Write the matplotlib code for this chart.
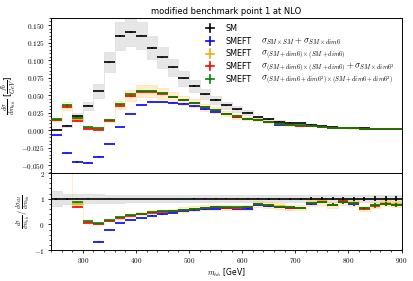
import numpy as np
import matplotlib
matplotlib.use('Agg')
import matplotlib.pyplot as plt
from matplotlib.ticker import FuncFormatter, AutoMinorLocator, MultipleLocator

plt.rcParams['mathtext.fontset'] = 'cm'
plt.rcParams['font.family'] = 'DejaVu Sans'

# m_hh bins, 20 GeV wide
edges = np.arange(240, 901, 20)
centers = 0.5 * (edges[:-1] + edges[1:])

# dsigma/dm_hh [fb/GeV]
sm = [0.0010, 0.0067, 0.0200, 0.0348, 0.0560, 0.0970, 0.1340, 0.1400, 0.1350, 0.1176,
      0.1040, 0.0895, 0.0740, 0.0630, 0.0510, 0.0430, 0.0355, 0.0300, 0.0250, 0.0186,
      0.0157, 0.0124, 0.0110, 0.0105, 0.0081, 0.0057, 0.0048, 0.0038, 0.0033, 0.0033,
      0.0024, 0.0024, 0.0019]
lin = [-0.0071, -0.0329, -0.0452, -0.0462, -0.0376, -0.0200, 0.0052, 0.0233, 0.0360, 0.0405,
       0.0405, 0.0395, 0.0380, 0.0345, 0.0300, 0.0260, 0.0225, 0.0186, 0.0155, 0.0141,
       0.0111, 0.0082, 0.0072, 0.0068, 0.0065, 0.0050, 0.0036, 0.0033, 0.0026, 0.0021,
       0.0018, 0.0019, 0.00146]
quad = [0.0153, 0.0345, 0.0160, 0.0034, 0.0020, 0.0143, 0.0360, 0.0495, 0.0555, 0.0555,
        0.0525, 0.0476, 0.0428, 0.0388, 0.0330, 0.0289, 0.0235, 0.0197, 0.0166, 0.0148,
        0.0119, 0.0088, 0.0073, 0.0068, 0.0067, 0.0051, 0.0037, 0.0034, 0.0028, 0.0021,
        0.0018, 0.0020, 0.0015]
quad_d8 = [0.0150, 0.0333, 0.0137, 0.0020, 0.0005, 0.0133, 0.0348, 0.0486, 0.0545, 0.0545,
           0.0520, 0.0472, 0.0425, 0.0385, 0.0327, 0.0287, 0.0234, 0.0196, 0.0165, 0.0147,
           0.0117, 0.0085, 0.0071, 0.0067, 0.0067, 0.0050, 0.0037, 0.0034, 0.0027, 0.0020,
           0.0017, 0.0019, 0.00146]
full = [0.0155, 0.0357, 0.0172, 0.0048, 0.0036, 0.0152, 0.0371, 0.0510, 0.0560, 0.0560,
        0.0530, 0.0480, 0.0430, 0.0390, 0.0330, 0.0290, 0.0236, 0.0198, 0.0167, 0.0147,
        0.0118, 0.0086, 0.0073, 0.0069, 0.0067, 0.0050, 0.0037, 0.0033, 0.0027, 0.0021,
        0.0018, 0.0019, 0.00146]

# relative uncertainties
sm_scale = [0.30, 0.20, 0.20, 0.17, 0.17, 0.15, 0.15, 0.14, 0.14, 0.14,
            0.14, 0.14, 0.14, 0.14, 0.14, 0.13, 0.13, 0.13, 0.13, 0.13,
            0.13, 0.13, 0.13, 0.13, 0.13, 0.13, 0.13, 0.13, 0.13, 0.13,
            0.13, 0.13, 0.13]
quad_scale = 0.15
stat = [0.03, 0.03, 0.02, 0.02, 0.01, 0.01, 0.01, 0.01, 0.01, 0.01,
        0.01, 0.01, 0.01, 0.02, 0.02, 0.02, 0.02, 0.02, 0.02, 0.02,
        0.03, 0.03, 0.03, 0.03, 0.05, 0.06, 0.06, 0.07, 0.08, 0.08,
        0.09, 0.09, 0.10]

series = [
    (lin, 'blue', r'$\sigma_{SM\times SM}+\sigma_{SM\times dim6}$'),
    (quad, 'orange', r'$\sigma_{(SM+dim6)\times(SM+dim6)}$'),
    (quad_d8, 'red', r'$\sigma_{(SM+dim6)\times(SM+dim6)}+\sigma_{SM\times dim6^2}$'),
    (full, 'green', r'$\sigma_{(SM+dim6+dim6^2)\times(SM+dim6+dim6^2)}$'),
]

sm = np.array(sm)
sm_scale = np.array(sm_scale)
stat = np.array(stat)


def band(ax, lo, hi, color, alpha):
    ax.fill_between(edges, np.append(lo, lo[-1]), np.append(hi, hi[-1]),
                    step='post', color=color, alpha=alpha, lw=0.6, zorder=1)


fig = plt.figure(figsize=(4.14, 2.81), dpi=100)
ax = fig.add_axes([0.123, 0.384, 0.847, 0.552])
rax = fig.add_axes([0.123, 0.110, 0.847, 0.274], sharex=ax)

# main panel
band(ax, sm * (1 - sm_scale), sm * (1 + sm_scale), 'lightgray', 0.55)
q = np.array(quad)
band(ax, q * (1 - quad_scale), q * (1 + quad_scale), 'orange', 0.2)
ax.errorbar(centers, sm, xerr=10, yerr=sm * stat, fmt='none', ecolor='black',
            elinewidth=1.2, zorder=3)
for vals, c, lab in series:
    v = np.array(vals)
    ax.errorbar(centers, v, xerr=10, yerr=np.abs(v) * stat, fmt='none', ecolor=c,
                elinewidth=1.2, zorder=3)

# ratio panel
band(rax, 1 - sm_scale, 1 + sm_scale, 'lightgray', 0.6)
band(rax, q / sm * (1 - quad_scale), q / sm * (1 + quad_scale), 'orange', 0.2)
rax.errorbar(centers, np.ones_like(sm), xerr=10, yerr=stat, fmt='none',
             ecolor='black', elinewidth=1.2, zorder=3)
for vals, c, lab in series:
    r = np.array(vals) / sm
    rax.errorbar(centers, r, xerr=10, yerr=np.abs(r) * stat, fmt='none', ecolor=c,
                 elinewidth=1.2, zorder=3)

# legend, laid out by hand so the rows are evenly spaced
leg_rows = [('black', 'SM', '')] + [(c, 'SMEFT', lab) for _, c, lab in series]
for i, (c, name, lab) in enumerate(leg_rows):
    y = 0.935 - i * 0.082
    ax.plot([0.443, 0.466], [y, y], color=c, lw=1.2, transform=ax.transAxes)
    ax.plot([0.4545, 0.4545], [y - 0.026, y + 0.026], color=c, lw=1.2,
            transform=ax.transAxes)
    ax.text(0.497, y - 0.019, name, fontsize=5.8, va='baseline',
            transform=ax.transAxes)
    if lab:
        ax.text(0.598, y - 0.019, lab, fontsize=6.4, va='baseline',
                transform=ax.transAxes)

ax.set_xlim(240, 900)
ax.set_ylim(-0.061, 0.160)
rax.set_ylim(-1, 2)

tick_fs = 5.2
ax.yaxis.set_major_locator(MultipleLocator(0.025))
ax.yaxis.set_minor_locator(AutoMinorLocator(5))
ax.yaxis.set_major_formatter(FuncFormatter(lambda v, p: '$%.3f$' % v))
ax.tick_params(axis='x', which='both', bottom=False, labelbottom=False)
ax.tick_params(axis='y', labelsize=tick_fs, length=2.5, width=0.6, pad=2)
ax.tick_params(axis='y', which='minor', length=1.5, width=0.5)

rax.yaxis.set_major_locator(MultipleLocator(1))
rax.yaxis.set_minor_locator(AutoMinorLocator(5))
rax.yaxis.set_major_formatter(FuncFormatter(lambda v, p: '$%d$' % v))
rax.xaxis.set_major_locator(MultipleLocator(100))
rax.xaxis.set_minor_locator(MultipleLocator(20))
rax.xaxis.set_major_formatter(FuncFormatter(lambda v, p: '$%d$' % v))
rax.tick_params(labelsize=tick_fs, length=2.5, width=0.6, pad=2)
rax.tick_params(which='minor', length=1.5, width=0.5)

for a in (ax, rax):
    for s in a.spines.values():
        s.set_linewidth(0.7)

ax.set_title('modified benchmark point 1 at NLO', fontsize=6, pad=3)
ax.set_ylabel(r'$\frac{d\sigma}{dm_{hh}}$ [$\frac{fb}{GeV}$]', fontsize=6.5)
ax.yaxis.set_label_coords(-0.092, 0.5)
rax.set_ylabel(r'$\frac{d\sigma}{dm_{hh}}\,/\,\frac{d\sigma_{SM}}{dm_{hh}}$', fontsize=5.8)
rax.yaxis.set_label_coords(-0.05, 0.5)
rax.set_xlabel(r'$m_{hh}$ [GeV]', fontsize=5.5, labelpad=1)

fig.savefig('out.png', dpi=100)
